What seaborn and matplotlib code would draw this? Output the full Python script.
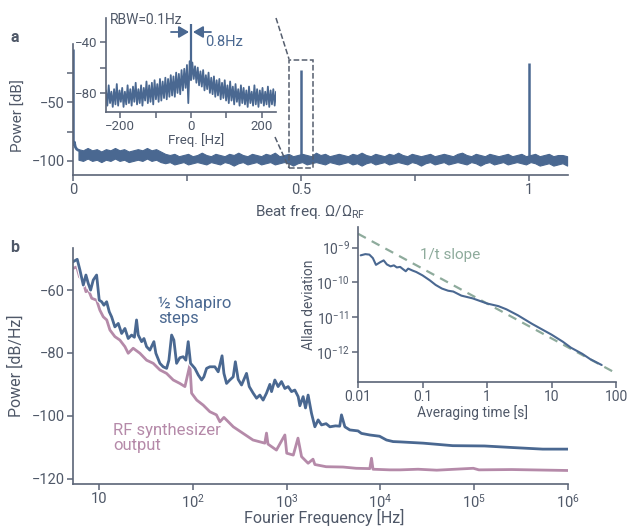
import numpy as np
import pandas as pd
import matplotlib
matplotlib.use("Agg")
import matplotlib.pyplot as plt
import matplotlib.patheffects as pe
from matplotlib.lines import Line2D
from matplotlib.patches import Rectangle, FancyArrowPatch
import seaborn as sns

# ---------------- data ----------------
# panel a: beat-note spectrum (x in units of the RF frequency, dB)
spike_pos = [0.001, 0.5, 1.0]
spike_top = [-5, -23, -17]
spike_base = [-86, -100, -100]
head_x = [0.001, 0.003, 0.005, 0.008, 0.012]
head_y = [-86, -84, -88, -90, -91]
floor_hi = [
    -90, -91, -89, -91, -90, -92, -90, -91, -89, -91,
    -90, -92, -91, -90, -91, -89, -91, -90, -92, -94,
    -95, -94, -96, -95, -94, -96, -95, -93, -95, -96,
    -94, -95, -96, -94, -95, -93, -95, -96, -94, -95,
    -96, -94, -95, -93, -96, -95, -94, -96, -95, -94,
    -95, -96, -93, -95, -94, -96, -95, -94, -95, -96,
    -94, -95, -93, -95, -96, -94, -95, -96, -94, -95,
    -93, -95, -96, -94, -95, -96, -95, -94, -96, -95,
    -94, -95, -96, -94, -93, -95, -96, -94, -95, -96,
    -94, -95, -96, -95, -94, -96, -95, -94, -96, -95,
    -94, -96, -95, -94, -96, -95, -95, -96]
floor_lo = [
    -99, -100, -98, -100, -99, -101, -99, -100, -98, -100,
    -99, -101, -100, -99, -100, -98, -100, -99, -101, -102,
    -101, -103, -102, -101, -103, -102, -101, -102, -103, -101,
    -102, -103, -101, -102, -104, -102, -101, -103, -102, -101,
    -103, -102, -101, -103, -102, -101, -102, -104, -102, -101,
    -103, -102, -101, -102, -103, -101, -102, -103, -102, -101,
    -103, -102, -104, -102, -101, -103, -102, -101, -103, -102,
    -101, -102, -103, -101, -102, -104, -102, -101, -103, -102,
    -101, -103, -102, -101, -102, -103, -101, -102, -104, -102,
    -101, -103, -102, -101, -103, -102, -101, -102, -103, -101,
    -102, -104, -103, -102, -104, -103, -102, -104]

# inset of panel a: zoom on the 0.5 line (Hz, dB)
inset_hi = [
    -78, -74, -79, -77, -73, -78, -76, -79, -74, -77,
    -75, -72, -77, -74, -76, -71, -74, -72, -70, -73,
    -69, -71, -68, -69, -66, -67, -64, -65, -62, -61,
    -58, -55,
    -56, -59, -60, -63, -62, -66, -64, -68, -67, -70,
    -69, -72, -70, -74, -71, -75, -73, -77, -74, -76,
    -78, -75, -79, -74, -77, -78, -76, -79, -75, -78,
    -77, -79]
inset_lo = [
    -90, -88, -91, -89, -90, -87, -91, -89, -88, -90,
    -87, -89, -88, -90, -86, -88, -87, -89, -85, -87,
    -86, -84, -85, -83, -82, -83, -80, -81, -78, -76,
    -88, -70,
    -69, -72, -74, -75, -78, -77, -80, -81, -83, -82,
    -85, -84, -86, -88, -86, -89, -87, -90, -88, -89,
    -91, -88, -90, -89, -91, -88, -90, -89, -91, -89,
    -90, -88]
carrier_top = -26

# panel b: phase-noise spectra (log10 of frequency in Hz, dB/Hz)
shapiro = [
    (0.72, -51.0), (0.765, -50.2), (0.794, -53.6), (0.83, -58.4), (0.858, -55.2),
    (0.883, -57.9), (0.908, -60.0), (0.936, -56.8), (0.972, -55.2), (1.0, -63.2),
    (1.026, -63.7), (1.05, -64.8), (1.079, -63.7), (1.107, -66.9), (1.132, -68.5),
    (1.167, -71.7), (1.203, -70.6), (1.239, -73.8), (1.274, -72.2), (1.309, -75.4),
    (1.345, -74.3), (1.375, -75.0), (1.398, -69.5), (1.416, -74.3), (1.452, -76.4),
    (1.477, -75.4), (1.505, -78.0), (1.54, -79.1), (1.583, -76.4), (1.604, -80.1),
    (1.647, -83.3), (1.682, -84.4), (1.719, -84.9), (1.743, -82.3), (1.772, -74.3),
    (1.796, -75.9), (1.825, -83.3), (1.86, -81.5), (1.896, -81.2), (1.924, -82.3),
    (1.949, -76.4), (1.974, -83.3), (2.02, -84.9), (2.056, -87.0), (2.092, -88.6),
    (2.116, -87.6), (2.145, -84.9), (2.18, -84.4), (2.233, -84.4), (2.269, -86.0),
    (2.31, -80.9), (2.33, -86.5), (2.358, -89.7), (2.393, -88.6), (2.429, -87.6),
    (2.452, -82.8), (2.482, -88.4), (2.518, -90.2), (2.571, -86.5), (2.6, -90.7),
    (2.642, -92.8), (2.678, -94.4), (2.713, -93.4), (2.748, -95.0), (2.784, -92.8),
    (2.82, -90.0), (2.838, -92.3), (2.873, -88.6), (2.908, -90.7), (2.944, -89.1),
    (2.98, -91.3), (3.015, -90.7), (3.051, -92.3), (3.086, -91.8), (3.122, -93.9),
    (3.14, -96.8), (3.175, -93.9), (3.2, -97.5), (3.228, -93.4), (3.264, -99.2),
    (3.3, -103.5), (3.335, -101.3), (3.371, -102.9), (3.42, -102.5), (3.46, -103.5),
    (3.52, -103.2), (3.565, -103.3), (3.584, -99.7), (3.62, -103.5), (3.673, -104.5),
    (3.76, -104.8), (3.797, -105.6), (3.886, -106.1), (3.99, -106.5), (4.064, -107.7),
    (4.134, -108.2), (4.21, -108.3), (4.455, -108.7), (4.77, -109.5), (5.11, -109.6),
    (5.41, -110.1), (5.73, -110.6), (6.0, -110.6)]
synth = [
    (0.72, -53.1), (0.76, -52.6), (0.79, -55.8), (0.82, -56.5), (0.858, -60.5),
    (0.885, -60.0), (0.92, -62.6), (0.972, -63.2), (1.007, -66.4), (1.043, -68.5),
    (1.08, -69.5), (1.114, -72.7), (1.167, -74.8), (1.22, -75.9), (1.274, -78.0),
    (1.309, -80.1), (1.362, -78.5), (1.434, -80.1), (1.505, -82.3), (1.576, -83.3),
    (1.647, -85.4), (1.718, -86.5), (1.789, -88.6), (1.86, -89.7), (1.914, -90.7),
    (1.967, -83.8), (1.985, -92.8), (2.04, -95.0), (2.109, -96.6), (2.18, -98.7),
    (2.25, -99.7), (2.287, -101.9), (2.33, -100.5), (2.43, -103.5), (2.535, -105.6),
    (2.64, -107.7), (2.766, -108.7), (2.784, -105.5), (2.80, -109.0), (2.89, -110.9),
    (2.98, -106.1), (3.0, -111.9), (3.07, -112.5), (3.12, -107.1), (3.158, -113.0),
    (3.228, -115.1), (3.28, -113.8), (3.3, -115.5), (3.42, -116.2), (3.6, -116.3),
    (3.74, -116.7), (3.886, -116.8), (3.904, -113.5), (3.92, -117.0), (4.1, -117.2),
    (4.21, -117.2), (4.4, -117.0), (4.6, -117.3), (4.99, -116.7), (5.05, -117.2),
    (5.4, -117.1), (5.8, -117.3), (6.0, -117.4)]

# inset of panel b: Allan deviation
tau = [0.011, 0.013, 0.015, 0.017, 0.019, 0.022, 0.025, 0.028, 0.032, 0.036,
       0.04, 0.045, 0.05, 0.055, 0.06, 0.07, 0.08, 0.1, 0.13, 0.16,
       0.2, 0.25, 0.3, 0.4, 0.6, 1, 1.5, 2, 3, 5,
       7, 10, 15, 20, 30, 40, 60]
adev = [6e-10, 6.5e-10, 6.3e-10, 5e-10, 3.2e-10, 3.8e-10, 4.3e-10, 3.3e-10, 2.9e-10, 3.1e-10,
        2.7e-10, 2.8e-10, 2.4e-10, 2.1e-10, 2.5e-10, 2.2e-10, 2.0e-10, 1.6e-10, 1.15e-10, 8.5e-11,
        6.7e-11, 5.8e-11, 5.5e-11, 4.2e-11, 3.5e-11, 2.5e-11, 2.1e-11, 1.7e-11, 1.15e-11, 6.5e-12,
        4.6e-12, 3.2e-12, 2.0e-12, 1.35e-12, 9e-13, 6.3e-13, 4.3e-13]
slope_tau = [0.01, 100]
slope_adev = [2.5e-9, 2.5e-13]

# ---------------- style ----------------
BLUE = "#4a6891"
PINK = "#b58aa9"
GREEN = "#8eab9c"
TEXT = "#4f5868"
SPINE = "#5b6577"
MINUS = "\u2212"

sns.set_style("ticks")
plt.rcParams["font.family"] = ["Roboto", "DejaVu Sans"]
plt.rcParams["mathtext.fontset"] = "custom"
plt.rcParams["mathtext.rm"] = "Roboto"
plt.rcParams["mathtext.it"] = "Roboto:italic"
plt.rcParams["mathtext.bf"] = "Roboto:bold"
plt.rcParams["text.color"] = TEXT
plt.rcParams["axes.labelcolor"] = TEXT

W, H = 631, 527
fig = plt.figure(figsize=(W / 100, H / 100), dpi=100)


def box(l, t, r, b):
    return [l / W, 1 - b / H, (r - l) / W, (b - t) / H]


def style(ax, size):
    for s in ["top", "right"]:
        ax.spines[s].set_visible(False)
    for s in ["left", "bottom"]:
        ax.spines[s].set_color(SPINE)
        ax.spines[s].set_linewidth(1.2)
    ax.set_facecolor("none")
    ax.tick_params(direction="out", length=4, width=1.1, color=SPINE,
                   labelcolor=TEXT, labelsize=size, pad=2)


ax_a = fig.add_axes(box(73, 44, 568, 175))
ax_in = fig.add_axes(box(106, 18, 276, 112))
ax_b = fig.add_axes(box(73, 248, 568, 484))
ax_al = fig.add_axes(box(358, 227, 616, 382))

# ---------------- panel a ----------------
floor_x = np.linspace(0.012, 1.084, len(floor_hi))
ax_a.fill_between(floor_x, floor_lo, floor_hi, color=BLUE, lw=0.8)
sns.lineplot(x=head_x, y=head_y, ax=ax_a, color=BLUE, lw=2, estimator=None)
ax_a.vlines(spike_pos, spike_base, spike_top, color=BLUE, lw=1.8)
ax_a.add_patch(Rectangle((0.474, -106), 0.052, 92, fill=False, ls="--",
                         ec="#555e6e", lw=1.1, clip_on=False))
ax_a.set_xlim(0, 1.086)
ax_a.set_ylim(-112, -0.5)
ax_a.set_xticks([0, 0.25, 0.5, 0.75, 1])
ax_a.set_xticklabels(["0", "", "0.5", "", "1"])
ax_a.set_yticks([-100, -75, -50, -25])
ax_a.set_yticklabels([MINUS + "100", "", MINUS + "50", ""])
style(ax_a, 10.5)
ax_a.set_xlabel(r"Beat freq. Ω/Ω$_{\mathrm{RF}}$", fontsize=11)
ax_a.set_ylabel("Power [dB]", fontsize=11)
ax_a.xaxis.set_label_coords(0.479, -0.21)
ax_a.yaxis.set_label_coords(-0.095, 0.45)

# inset a
in_x = np.linspace(-240, 240, len(inset_hi))
ix = in_x[1] - in_x[0]
df_in = pd.DataFrame({
    "x": np.column_stack([in_x, in_x + ix / 2]).ravel(),
    "y": np.column_stack([inset_hi, inset_lo]).ravel(),
})
sns.lineplot(data=df_in, x="x", y="y", ax=ax_in, color=BLUE, lw=1.3,
             estimator=None, sort=False)
ax_in.vlines([0], [-70], [carrier_top], color=BLUE, lw=1.6)
ax_in.set_xlim(-240, 240)
ax_in.set_ylim(-95, -21)
ax_in.set_xticks([-200, -100, 0, 100, 200])
ax_in.set_xticklabels([MINUS + "200", "", "0", "", "200"])
ax_in.set_yticks([-80, -60, -40])
ax_in.set_yticklabels([MINUS + "80", "", MINUS + "40"])
style(ax_in, 9.5)
ax_in.set_xlabel("Freq. [Hz]", fontsize=9.5)
ax_in.set_ylabel("")
ax_in.xaxis.set_label_coords(0.528, -0.225)

fig.text(110 / W, 1 - 20 / H, "RBW=0.1Hz", fontsize=10, va="center", ha="left")
fig.text(205 / W, 1 - 42 / H, "0.8Hz", fontsize=10.5, va="center", ha="left", color=BLUE)
arrow = dict(arrowstyle="-|>,head_length=0.6,head_width=0.35", color=BLUE, lw=1.3,
             mutation_scale=10, shrinkA=0, shrinkB=0)
fig.add_artist(FancyArrowPatch(
    (171 / W, 1 - 32 / H), (189 / W, 1 - 32 / H), transform=fig.transFigure, **arrow))
fig.add_artist(FancyArrowPatch(
    (211 / W, 1 - 32 / H), (193 / W, 1 - 32 / H), transform=fig.transFigure, **arrow))

for (x0, y0), (x1, y1) in [((276, 18), (289, 59)), ((275, 137), (289, 168))]:
    fig.add_artist(Line2D([x0 / W, x1 / W], [1 - y0 / H, 1 - y1 / H],
                          transform=fig.transFigure, ls="--", lw=1.1, color="#555e6e"))

# ---------------- panel b ----------------
sh = np.array(shapiro)
sy = np.array(synth)
ax_b.set_xscale("log")
sns.lineplot(x=10 ** sy[:, 0], y=sy[:, 1], ax=ax_b, color=PINK, lw=2.0, estimator=None)
sns.lineplot(x=10 ** sh[:, 0], y=sh[:, 1], ax=ax_b, color=BLUE, lw=2.0, estimator=None,
             path_effects=[pe.withStroke(linewidth=3.6, foreground="white")])
ax_b.set_xlim(5.25, 1e6)
ax_b.set_ylim(-121.7, -46.6)
ax_b.set_xticks([10, 1e2, 1e3, 1e4, 1e5, 1e6])
ax_b.set_xticklabels(["10", r"$10^2$", r"$10^3$", r"$10^4$", r"$10^5$", r"$10^6$"])
ax_b.xaxis.set_minor_locator(matplotlib.ticker.NullLocator())
ax_b.set_yticks([-120, -100, -80, -60])
ax_b.set_yticklabels([MINUS + "120", MINUS + "100", MINUS + "80", MINUS + "60"])
style(ax_b, 10.5)
ax_b.set_xlabel("Fourier Frequency [Hz]", fontsize=11.5)
ax_b.set_ylabel("Power [dB/Hz]", fontsize=11.5)
ax_b.xaxis.set_label_coords(0.507, -0.105)
ax_b.yaxis.set_label_coords(-0.099, 0.5)

fig.text(158 / W, 1 - 311 / H, "½ Shapiro\nsteps", fontsize=12, color=BLUE,
         va="center", ha="left", linespacing=1.0)
fig.text(113 / W, 1 - 438 / H, "RF synthesizer\noutput", fontsize=12, color=PINK,
         va="center", ha="left", linespacing=1.0)

# inset b: Allan deviation
ax_al.set_xscale("log")
ax_al.set_yscale("log")
sns.lineplot(x=slope_tau, y=slope_adev, ax=ax_al, color=GREEN, lw=1.6,
             estimator=None).lines[0].set_dashes([4, 3])
sns.lineplot(x=tau, y=adev, ax=ax_al, color=BLUE, lw=1.5, estimator=None)
ax_al.set_xlim(0.01, 100)
ax_al.set_ylim(1.4e-13, 3.9e-9)
ax_al.set_xticks([0.01, 0.1, 1, 10, 100])
ax_al.set_xticklabels(["0.01", "0.1", "1", "10", "100"])
ax_al.set_yticks([1e-12, 1e-11, 1e-10, 1e-9])
ax_al.set_yticklabels([r"$10^{-12}$", r"$10^{-11}$", r"$10^{-10}$", r"$10^{-9}$"])
ax_al.xaxis.set_minor_locator(matplotlib.ticker.NullLocator())
ax_al.yaxis.set_minor_locator(matplotlib.ticker.NullLocator())
style(ax_al, 10)
ax_al.set_xlabel("Averaging time [s]", fontsize=10)
ax_al.set_ylabel("Allan deviation", fontsize=10)
ax_al.xaxis.set_label_coords(0.442, -0.15)
ax_al.yaxis.set_label_coords(-0.163, 0.5)
fig.text(420 / W, 1 - 255 / H, "1/t slope", fontsize=11, color=GREEN,
         va="center", ha="left")

# panel letters
fig.text(15 / W, 1 - 38 / H, "a", fontsize=11.5, fontweight="bold", va="center", ha="center")
fig.text(15 / W, 1 - 248 / H, "b", fontsize=11.5, fontweight="bold", va="center", ha="center")

fig.savefig("out.png", dpi=100)
